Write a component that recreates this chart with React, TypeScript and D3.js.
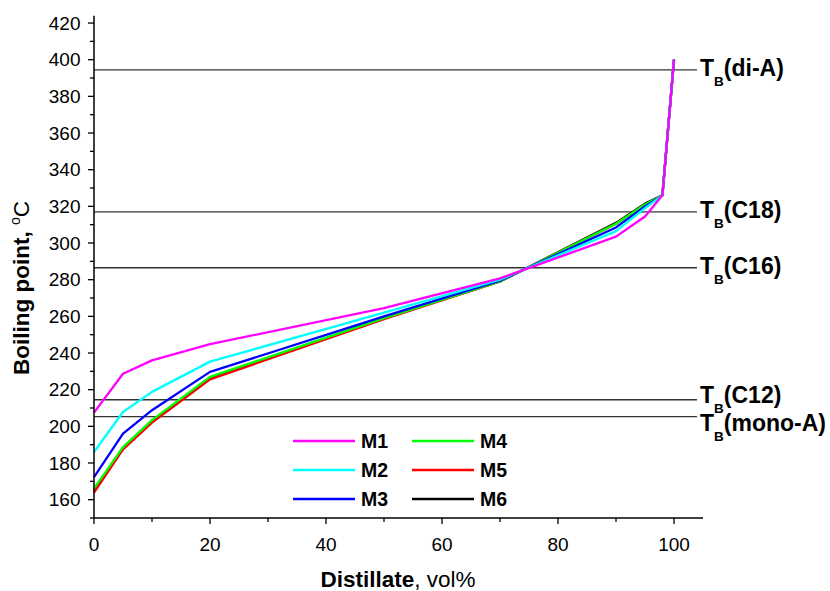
import React from "react";
import * as d3 from "d3";

// distillate fraction, vol%
const distillate = [0, 5, 10, 20, 50, 70, 90, 95, 98, 100];

// boiling point (°C) for each sample
const m1 = [207.5, 228.7, 236, 244.8, 264.5, 280.7, 303.5, 314.5, 326, 400];
const m2 = [186, 207.8, 218.8, 235.3, 262, 280, 306.5, 319, 326, 400];
const m3 = [172.3, 196, 208.8, 229.7, 260, 279.5, 308.5, 320, 326, 400];
const m4 = [166, 188.7, 203.4, 227, 259, 279, 310.5, 321, 326, 400];
const m5 = [163.8, 187.4, 202, 225.6, 258.5, 279, 310.5, 321, 326, 400];
const m6 = [165, 188, 202.5, 226.3, 259, 279, 311, 321.5, 326, 400];

const seriesNames = ["M1", "M2", "M3", "M4", "M5", "M6"];
const seriesValues = [m1, m2, m3, m4, m5, m6];
const seriesColors = ["#ff00ff", "#00ffff", "#0000ff", "#00ff00", "#ff0000", "#000000"];

// reference boiling temperatures
const refNames = ["di-A", "C18", "C16", "C12", "mono-A"];
const refValues = [394.5, 317, 286.5, 214.5, 205.3];

const xTicks = [0, 20, 40, 60, 80, 100];
const yTicks = [160, 180, 200, 220, 240, 260, 280, 300, 320, 340, 360, 380, 400, 420];

const FONT = "'Liberation Sans', Arial, sans-serif";

export default function App() {
  const width = 830;
  const height = 591;

  const x = d3.scaleLinear().domain([0, 105]).range([94, 703]);
  const y = d3.scaleLinear().domain([150, 424]).range([518, 15.7]);

  const line = d3
    .line<number>()
    .x((d, i) => x(distillate[i]))
    .y((d) => y(d));

  const xMinor = d3.range(10, 105, 20);
  const yMinor = d3.range(150, 424, 20);

  // small nudges so the two close labels don't collide
  const labelShift = [0, 0, 0, -3, 8.5];

  const legendRows = [441, 470, 499];

  return (
    <svg
      width={width}
      height={height}
      style={{ position: "absolute", left: 0, top: 0, background: "#fff" }}
      fontFamily={FONT}
    >
      {/* reference lines */}
      {refValues.map((v, i) => (
        <g key={refNames[i]}>
          <line x1={x(0)} x2={697} y1={y(v)} y2={y(v)} stroke="#333" strokeWidth={1.3} />
          <text
            x={700}
            y={y(v) + 6 + labelShift[i]}
            fontSize={23}
            fontWeight="bold"
            fill="#000"
          >
            T
            <tspan fontSize={13.5} dy={10}>B</tspan>
            <tspan dy={-10}>({refNames[i]})</tspan>
          </text>
        </g>
      ))}

      {/* curves, M1 drawn last so it sits on top */}
      {seriesValues
        .map((vals, i) => ({ vals, i }))
        .reverse()
        .map(({ vals, i }) => (
          <path
            key={seriesNames[i]}
            d={line(vals) || ""}
            fill="none"
            stroke={seriesColors[i]}
            strokeWidth={2.3}
            strokeLinejoin="round"
          />
        ))}

      {/* axes */}
      <line x1={x(0)} x2={x(0)} y1={y(150)} y2={y(424)} stroke="#000" strokeWidth={1.5} />
      <line x1={x(0)} x2={x(105)} y1={y(150)} y2={y(150)} stroke="#000" strokeWidth={1.5} />

      {yTicks.map((t) => (
        <g key={"y" + t}>
          <line x1={x(0) - 6} x2={x(0)} y1={y(t)} y2={y(t)} stroke="#000" strokeWidth={1.3} />
          <text x={80.5} y={y(t) + 6.5} textAnchor="end" fontSize={19} fill="#000">
            {t}
          </text>
        </g>
      ))}
      {yMinor.map((t) => (
        <line key={"ym" + t} x1={x(0) - 4} x2={x(0)} y1={y(t)} y2={y(t)} stroke="#000" strokeWidth={1.3} />
      ))}

      {xTicks.map((t) => (
        <g key={"x" + t}>
          <line x1={x(t)} x2={x(t)} y1={y(150)} y2={y(150) + 6} stroke="#000" strokeWidth={1.3} />
          <text x={x(t)} y={550.5} textAnchor="middle" fontSize={19} fill="#000">
            {t}
          </text>
        </g>
      ))}
      {xMinor.map((t) => (
        <line key={"xm" + t} x1={x(t)} x2={x(t)} y1={y(150)} y2={y(150) + 4} stroke="#000" strokeWidth={1.3} />
      ))}

      {/* axis titles */}
      <text x={398} y={587} textAnchor="middle" fontSize={22.5} fill="#000">
        <tspan fontWeight="bold">Distillate</tspan>
        <tspan>, vol%</tspan>
      </text>
      <text
        transform="translate(29,288) rotate(-90)"
        textAnchor="middle"
        fontSize={22.5}
        fill="#000"
      >
        <tspan fontWeight="bold">Boiling point, </tspan>
        <tspan fontSize={14} dy={-9}>o</tspan>
        <tspan dy={9}>C</tspan>
      </text>

      {/* legend */}
      {seriesNames.map((name, i) => {
        const col = Math.floor(i / 3);
        const row = i % 3;
        const lx = col === 0 ? 293 : 412;
        const ly = legendRows[row];
        return (
          <g key={"lg" + name}>
            <line x1={lx} x2={lx + 62} y1={ly} y2={ly} stroke={seriesColors[i]} strokeWidth={2.3} />
            <text x={lx + 68} y={ly + 7} fontSize={19.5} fontWeight="bold" fill="#000">
              {name}
            </text>
          </g>
        );
      })}
    </svg>
  );
}
